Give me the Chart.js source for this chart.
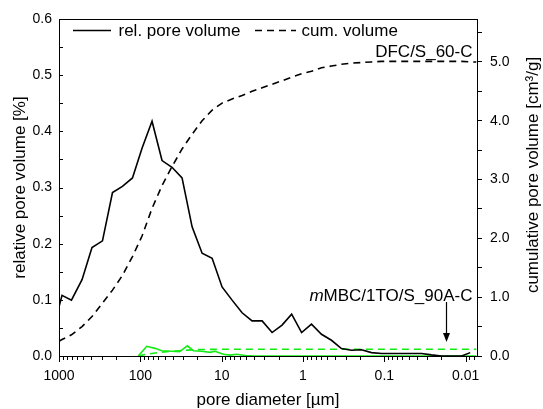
<!DOCTYPE html>
<html><head><meta charset="utf-8">
<script src="https://cdn.jsdelivr.net/npm/chart.js@4/dist/chart.umd.min.js"></script>
<style>html,body{margin:0;padding:0;background:#fff}canvas{display:block}</style>
</head><body>
<canvas id="c" width="543" height="409"></canvas>
<script>
// pore diameter [µm] for sample DFC/S_60-C
const diameters = [1000, 918, 703, 521, 393, 292, 220, 166, 125, 95.3, 71.8, 54.1, 40.8, 30.7, 23.1, 17.4, 13.1, 9.89, 7.45, 5.61, 4.23, 3.18, 2.40, 1.81, 1.38, 1.04, 0.787, 0.593, 0.447, 0.337, 0.254, 0.191, 0.144, 0.108, 0.0815, 0.0614, 0.0463, 0.0349, 0.0263, 0.0198, 0.0149, 0.0112, 0.0088];
// relative pore volume [%]
const relPoreVolume = [0.0875, 0.108, 0.0995, 0.136, 0.193, 0.205, 0.291, 0.302, 0.317, 0.370, 0.418, 0.348, 0.336, 0.317, 0.230, 0.183, 0.174, 0.123, 0.0995, 0.077, 0.0625, 0.0625, 0.0418, 0.055, 0.0745, 0.0418, 0.0566, 0.0387, 0.028, 0.0132, 0.0102, 0.011, 0.006, 0.0045, 0.0045, 0.0045, 0.0045, 0.0045, 0.002, 0, 0, 0, 0.006];
// cumulative volume [cm3/g]
const cumDiameters = [1000, 918, 703, 521, 393, 292, 220, 166, 125, 95.3, 71.8, 54.1, 40.8, 30.7, 23.1, 17.4, 13.1, 9.89, 7.45, 5.61, 4.23, 3.18, 2.40, 1.81, 1.38, 1.04, 0.787, 0.593, 0.447, 0.337, 0.254, 0.191, 0.144, 0.108, 0.0815, 0.0614, 0.0463, 0.0349, 0.0263, 0.0198, 0.0149, 0.0112, 0.0088, 0.0074];
const cumVolume = [0.25, 0.28, 0.36, 0.50, 0.67, 0.90, 1.12, 1.37, 1.69, 2.04, 2.51, 2.90, 3.22, 3.52, 3.77, 4.00, 4.18, 4.30, 4.37, 4.43, 4.50, 4.56, 4.62, 4.68, 4.74, 4.80, 4.84, 4.90, 4.93, 4.96, 4.98, 4.99, 5.00, 5.01, 5.01, 5.01, 5.01, 5.01, 5.01, 5.01, 5.01, 5.01, 5.00, 5.00];
// sample mMBC/1TO/S_90A-C
const greenDiameters = [106, 83.4, 65.9, 54.5, 41.1, 33.1, 26.4, 22.3, 17.6, 13.9, 12.1, 9.53, 7.88, 6.52, 5.15, 4.0, 1, 0.1, 0.0074];
const greenRel = [0, 0.0173, 0.0136, 0.0094, 0.0085, 0.0075, 0.0182, 0.0094, 0.0085, 0.0065, 0.0085, 0.003, 0.0015, 0.003, 0.001, 0, 0, 0, 0];
const greenCum = [0, 0.03, 0.05, 0.065, 0.08, 0.09, 0.10, 0.105, 0.11, 0.112, 0.113, 0.114, 0.114, 0.115, 0.115, 0.115, 0.115, 0.115, 0.115];

const leftTicks = [0, 0.05, 0.1, 0.15, 0.2, 0.25, 0.3, 0.35, 0.4, 0.45, 0.5, 0.55, 0.6];
const rightTicks = [0, 0.5, 1, 1.5, 2, 2.5, 3, 3.5, 4, 4.5, 5, 5.5];
const xMajorLabels = [1000, 100, 10, 1, 0.1, 0.01];

const FONT = '"Liberation Sans", Arial, sans-serif';
const GREEN = 'rgb(20,235,20)';
const pts = (xs, ys) => xs.map((x, i) => ({x: x, y: ys[i]}));

const xTickValues = [];
for (let e = -3; e <= 2; e++) for (let m = 1; m <= 9; m++) {
  const v = parseFloat((m * Math.pow(10, e)).toPrecision(6));
  if (v >= 0.0073 && v <= 1000) xTickValues.push(v);
}
xTickValues.push(1000);
const isDecade = v => Math.abs(Math.log10(v) - Math.round(Math.log10(v))) < 1e-6;

const decor = {
  id: 'decor',
  afterDraw(chart) {
    const ctx = chart.ctx, a = chart.chartArea;
    const xs = chart.scales.x, ys = chart.scales.y;
    ctx.save();
    ctx.strokeStyle = '#000'; ctx.lineWidth = 1; ctx.setLineDash([]);
    ctx.beginPath();
    ctx.moveTo(a.left, a.top + 0.5); ctx.lineTo(a.right, a.top + 0.5);
    for (const t of ys.ticks) {
      const py = Math.round(ys.getPixelForValue(t.value)) + 0.5;
      ctx.moveTo(a.left, py); ctx.lineTo(a.left + 4, py);
    }
    for (const t of xs.ticks) {
      const px = Math.round(xs.getPixelForValue(t.value)) + 0.5;
      const len = isDecade(t.value) ? 6 : 4;
      ctx.moveTo(px, a.bottom); ctx.lineTo(px, a.bottom + len);
    }
    ctx.stroke();

    // legend
    ctx.lineWidth = 1.6;
    ctx.beginPath(); ctx.moveTo(73, 30.5); ctx.lineTo(111, 30.5); ctx.stroke();
    ctx.setLineDash([7, 5]);
    ctx.beginPath(); ctx.moveTo(255, 30.5); ctx.lineTo(296, 30.5); ctx.stroke();
    ctx.setLineDash([]);
    ctx.fillStyle = '#000';
    ctx.font = '17px ' + FONT;
    ctx.textBaseline = 'alphabetic';
    ctx.textAlign = 'left';
    ctx.fillText('rel. pore volume', 118.5, 35.7);
    ctx.fillText('cum. volume', 301.5, 35.7);

    // sample labels
    ctx.textAlign = 'right';
    ctx.fillText('DFC/S_60-C', 472.5, 56.7);
    const rest = 'MBC/1TO/S_90A-C';
    ctx.fillText(rest, 472.5, 301);
    const w = ctx.measureText(rest).width;
    ctx.font = 'italic 17px ' + FONT;
    ctx.fillText('m', 472.5 - w, 301);

    // arrow
    ctx.lineWidth = 1.2;
    ctx.beginPath(); ctx.moveTo(446.5, 302); ctx.lineTo(446.5, 334); ctx.stroke();
    ctx.beginPath(); ctx.moveTo(443, 333); ctx.lineTo(450, 333); ctx.lineTo(446.5, 342); ctx.closePath(); ctx.fill();

    // right axis title (reads bottom to top)
    ctx.font = '17px ' + FONT;
    ctx.textAlign = 'center'; ctx.textBaseline = 'middle';
    ctx.translate(533, 175); ctx.rotate(-Math.PI / 2);
    ctx.fillText('cumulative pore volume [cm\u00B3/g]', 0, 0);
    ctx.restore();
  }
};

new Chart(document.getElementById('c'), {
  type: 'line',
  data: {
    datasets: [
      {label: 'rel. pore volume', data: pts(diameters, relPoreVolume), yAxisID: 'y', borderColor: '#000', borderWidth: 1.6, pointRadius: 0, tension: 0},
      {label: 'cum. volume', data: pts(cumDiameters, cumVolume), yAxisID: 'y2', borderColor: '#000', borderWidth: 1.6, borderDash: [7, 5], pointRadius: 0, tension: 0},
      {label: 'mMBC rel', data: pts(greenDiameters, greenRel), yAxisID: 'y', borderColor: GREEN, borderWidth: 1.6, pointRadius: 0, tension: 0},
      {label: 'mMBC cum', data: pts(greenDiameters, greenCum), yAxisID: 'y2', borderColor: GREEN, borderWidth: 1.6, borderDash: [7, 5], pointRadius: 0, tension: 0}
    ]
  },
  options: {
    responsive: false, animation: false, devicePixelRatio: 1,
    layout: {padding: {left: 0, right: 0, top: 19, bottom: 0}},
    plugins: {legend: {display: false}, tooltip: {enabled: false}},
    scales: {
      x: {
        type: 'logarithmic', position: 'bottom', reverse: true, min: 0.00726, max: 1000,
        afterBuildTicks: s => { s.ticks = xTickValues.map(v => ({value: v})); },
        afterFit: s => { s.height = 53; },
        grid: {display: false, drawTicks: false},
        border: {display: true, color: '#000', width: 1},
        ticks: {autoSkip: false, maxRotation: 0, minRotation: 0, padding: 12, color: '#000', font: {family: FONT, size: 14},
          callback: v => isDecade(v) ? (v >= 1 ? String(Math.round(v)) : String(parseFloat(v.toPrecision(3)))) : ''},
        title: {display: true, text: 'pore diameter [\u00B5m]', color: '#000', font: {family: FONT, size: 17, lineHeight: 1}, padding: {top: 0, bottom: 0}}
      },
      y: {
        type: 'linear', position: 'left', min: 0, max: 0.6,
        afterBuildTicks: s => { s.ticks = leftTicks.map(v => ({value: v})); },
        afterFit: s => { s.width = 59; },
        grid: {display: false, drawTicks: false},
        border: {display: true, color: '#000', width: 1},
        ticks: {autoSkip: false, padding: 7, color: '#000', font: {family: FONT, size: 14},
          callback: v => (Math.abs(v * 10 - Math.round(v * 10)) < 1e-6) ? v.toFixed(1) : ''},
        title: {display: true, text: 'relative pore volume [%]', color: '#000', font: {family: FONT, size: 17, lineHeight: 1}, padding: {top: 11.5, bottom: 0}}
      },
      y2: {
        type: 'linear', position: 'right', min: 0, max: 5.73,
        afterBuildTicks: s => { s.ticks = rightTicks.map(v => ({value: v})); },
        afterFit: s => { s.width = 66; },
        grid: {display: true, drawOnChartArea: false, drawTicks: true, tickLength: 5, color: '#000', lineWidth: 1},
        border: {display: true, color: '#000', width: 1},
        ticks: {autoSkip: false, padding: 8, color: '#000', font: {family: FONT, size: 14},
          callback: v => (Math.abs(v - Math.round(v)) < 1e-6) ? v.toFixed(1) : ''}
      }
    }
  },
  plugins: [decor]
});
</script>
</body></html>
